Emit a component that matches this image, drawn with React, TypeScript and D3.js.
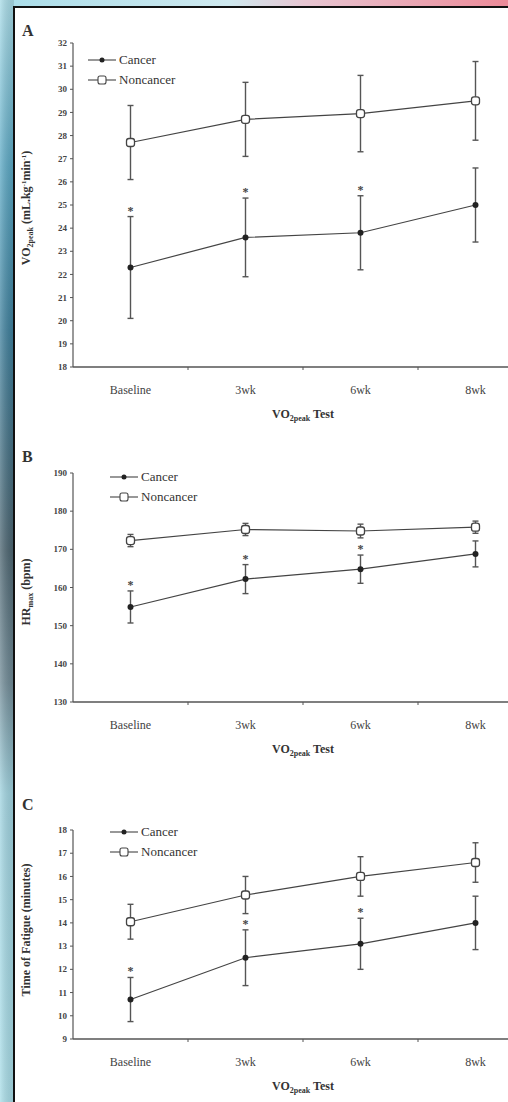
import React from "react";
import * as d3 from "d3";

const categories = ["Baseline", "3wk", "6wk", "8wk"];

// Panel A: VO2peak
const aCancer = [22.3, 23.6, 23.8, 25.0];
const aCancerErr = [2.2, 1.7, 1.6, 1.6];
const aNon = [27.7, 28.7, 28.95, 29.5];
const aNonErr = [1.6, 1.6, 1.65, 1.7];
const aStar = [true, true, true, false];
const aTicks = [18, 19, 20, 21, 22, 23, 24, 25, 26, 27, 28, 29, 30, 31, 32];

// Panel B: HRmax
const bCancer = [154.9, 162.2, 164.8, 168.8];
const bCancerErr = [4.2, 3.8, 3.7, 3.4];
const bNon = [172.3, 175.2, 174.8, 175.8];
const bNonErr = [1.6, 1.6, 1.8, 1.6];
const bStar = [true, true, true, false];
const bTicks = [130, 140, 150, 160, 170, 180, 190];

// Panel C: Time of fatigue
const cCancer = [10.7, 12.5, 13.1, 14.0];
const cCancerErr = [0.95, 1.2, 1.1, 1.15];
const cNon = [14.05, 15.2, 16.0, 16.6];
const cNonErr = [0.75, 0.8, 0.85, 0.85];
const cStar = [true, true, true, false];
const cTicks = [9, 10, 11, 12, 13, 14, 15, 16, 17, 18];

const FONT = "'Liberation Serif', 'DejaVu Serif', serif";
const INK = "#333";

type PanelProps = {
  letter: string;
  letterY: number;
  domain: [number, number];
  top: number;
  bottom: number;
  ticks: number[];
  cancer: number[];
  cancerErr: number[];
  non: number[];
  nonErr: number[];
  star: boolean[];
  yTitle: React.ReactNode;
  yTitleY: number;
  legendX: number;
  legendY: number;
};

function Panel(p: PanelProps) {
  const x = d3.scaleBand<string>().domain(categories).range([73, 533]).padding(0);
  const y = d3.scaleLinear().domain(p.domain).range([p.bottom, p.top]);
  const cx = (c: string) => (x(c) as number) + x.bandwidth() / 2;
  const line = d3
    .line<number>()
    .x((_, i) => cx(categories[i]))
    .y((v) => y(v));
  const axisX = 73;
  return (
    <g>
      <text x={22} y={p.letterY} fontFamily={FONT} fontWeight="bold" fontSize={16} fill={INK}>
        {p.letter}
      </text>
      {/* y axis */}
      <line x1={axisX} x2={axisX} y1={p.top} y2={p.bottom} stroke="#555" strokeWidth={1.2} />
      {p.ticks.map((t) => (
        <g key={t}>
          <line x1={axisX - 3} x2={axisX} y1={y(t)} y2={y(t)} stroke="#555" strokeWidth={1} />
          <text
            x={axisX - 6}
            y={y(t)}
            dy="0.35em"
            textAnchor="end"
            fontFamily={FONT}
            fontSize={9}
            fontWeight="bold"
            fill="#444"
          >
            {t}
          </text>
        </g>
      ))}
      {/* x axis */}
      <line x1={axisX} x2={533} y1={p.bottom} y2={p.bottom} stroke="#555" strokeWidth={1.4} />
      {categories.slice(1).map((c) => (
        <line key={c} x1={x(c) as number} x2={x(c) as number} y1={p.bottom} y2={p.bottom + 3} stroke="#555" strokeWidth={1} />
      ))}
      {categories.map((c) => (
        <text
          key={c}
          x={cx(c)}
          y={p.bottom + 27}
          textAnchor="middle"
          fontFamily={FONT}
          fontSize={12}
          fill="#444"
        >
          {c}
        </text>
      ))}
      <text x={303} y={p.bottom + 51} textAnchor="middle" fontFamily={FONT} fontSize={12} fontWeight="bold" fill={INK}>
        VO<tspan fontSize={8} dy={3}>2peak</tspan>
        <tspan dy={-3}> Test</tspan>
      </text>
      {/* y title */}
      <text
        transform={`translate(30,${p.yTitleY}) rotate(-90)`}
        textAnchor="middle"
        fontFamily={FONT}
        fontSize={12}
        fontWeight="bold"
        fill={INK}
      >
        {p.yTitle}
      </text>
      {/* lines */}
      <path d={line(p.non) || ""} fill="none" stroke="#444" strokeWidth={1.2} />
      <path d={line(p.cancer) || ""} fill="none" stroke="#444" strokeWidth={1.2} />
      {/* error bars */}
      {categories.map((c, i) => {
        const xc = cx(c);
        const bars = [
          [p.non[i], p.nonErr[i]],
          [p.cancer[i], p.cancerErr[i]],
        ];
        return (
          <g key={c}>
            {bars.map(([m, e], j) => (
              <g key={j} stroke="#555" strokeWidth={1.4}>
                <line x1={xc} x2={xc} y1={y(m - e)} y2={y(m + e)} />
                <line x1={xc - 3} x2={xc + 3} y1={y(m - e)} y2={y(m - e)} />
                <line x1={xc - 3} x2={xc + 3} y1={y(m + e)} y2={y(m + e)} />
              </g>
            ))}
            {p.star[i] && (
              <text
                x={xc}
                y={y(p.cancer[i] + p.cancerErr[i]) - 2}
                textAnchor="middle"
                fontFamily={FONT}
                fontSize={12}
                fontWeight="bold"
                fill="#444"
              >
                *
              </text>
            )}
            <rect x={xc - 4} y={y(p.non[i]) - 4} width={8} height={8} rx={2.5} fill="#fff" stroke="#444" strokeWidth={1.3} />
            <circle cx={xc} cy={y(p.cancer[i])} r={3} fill="#222" />
          </g>
        );
      })}
      {/* legend */}
      <g>
        <line x1={p.legendX} x2={p.legendX + 28} y1={p.legendY - 4} y2={p.legendY - 4} stroke="#444" strokeWidth={1.1} />
        <circle cx={p.legendX + 14} cy={p.legendY - 4} r={2.5} fill="#222" />
        <text x={p.legendX + 31} y={p.legendY} fontFamily={FONT} fontSize={13} fill={INK}>
          Cancer
        </text>
        <line x1={p.legendX} x2={p.legendX + 28} y1={p.legendY + 16} y2={p.legendY + 16} stroke="#444" strokeWidth={1.1} />
        <rect x={p.legendX + 10} y={p.legendY + 12} width={8} height={8} rx={2} fill="#fff" stroke="#444" strokeWidth={1.1} />
        <text x={p.legendX + 31} y={p.legendY + 20} fontFamily={FONT} fontSize={13} fill={INK}>
          Noncancer
        </text>
      </g>
    </g>
  );
}

export default function App() {
  return (
    <svg
      width={508}
      height={1102}
      style={{ position: "absolute", left: 0, top: 0, background: "#fff" }}
    >
      <defs>
        <linearGradient id="leftStrip" x1="0" y1="0" x2="0" y2="1">
          <stop offset="0" stopColor="#a8dce8" />
          <stop offset="0.15" stopColor="#5aa8c4" />
          <stop offset="0.3" stopColor="#3d7f9c" />
          <stop offset="0.5" stopColor="#4b6470" />
          <stop offset="0.62" stopColor="#6f8a96" />
          <stop offset="0.72" stopColor="#9fd3e0" />
          <stop offset="1" stopColor="#a8dde8" />
        </linearGradient>
        <linearGradient id="leftStripH" x1="0" y1="0" x2="1" y2="0">
          <stop offset="0" stopColor="#ffffff" stopOpacity="0.25" />
          <stop offset="1" stopColor="#000000" stopOpacity="0.1" />
        </linearGradient>
        <linearGradient id="topStrip" x1="0" y1="0" x2="1" y2="0">
          <stop offset="0" stopColor="#a9dde9" />
          <stop offset="0.45" stopColor="#cfe9ef" />
          <stop offset="0.6" stopColor="#e7c6d2" />
          <stop offset="1" stopColor="#ec8a98" />
        </linearGradient>
      </defs>
      <rect x={0} y={0} width={508} height={7} fill="url(#topStrip)" />
      <rect x={0} y={0} width={14} height={1102} fill="url(#leftStrip)" />
      <rect x={0} y={0} width={14} height={1102} fill="url(#leftStripH)" />
      <line x1={14} x2={508} y1={7} y2={7} stroke="#111" strokeWidth={2} />
      <line x1={14} x2={14} y1={6} y2={1102} stroke="#111" strokeWidth={2} />

      <Panel
        letter="A"
        letterY={36}
        domain={[18, 32]}
        top={43}
        bottom={367}
        ticks={aTicks}
        cancer={aCancer}
        cancerErr={aCancerErr}
        non={aNon}
        nonErr={aNonErr}
        star={aStar}
        yTitleY={208}
        legendX={88}
        legendY={64}
        yTitle={
          <>
            VO<tspan fontSize={8} dy={3}>2peak</tspan>
            <tspan dy={-3}> (mL.kg</tspan>
            <tspan fontSize={7} dy={-4}>-1</tspan>
            <tspan dy={4}>min</tspan>
            <tspan fontSize={7} dy={-4}>-1</tspan>
            <tspan dy={4}>)</tspan>
          </>
        }
      />
      <Panel
        letter="B"
        letterY={462}
        domain={[130, 190]}
        top={473}
        bottom={702}
        ticks={bTicks}
        cancer={bCancer}
        cancerErr={bCancerErr}
        non={bNon}
        nonErr={bNonErr}
        star={bStar}
        yTitleY={592}
        legendX={110}
        legendY={481}
        yTitle={
          <>
            HR<tspan fontSize={8} dy={3}>max</tspan>
            <tspan dy={-3}> (bpm)</tspan>
          </>
        }
      />
      <Panel
        letter="C"
        letterY={810}
        domain={[9, 18]}
        top={830}
        bottom={1039}
        ticks={cTicks}
        cancer={cCancer}
        cancerErr={cCancerErr}
        non={cNon}
        nonErr={cNonErr}
        star={cStar}
        yTitleY={930}
        legendX={110}
        legendY={836}
        yTitle={<>Time of Fatigue (minutes)</>}
      />
    </svg>
  );
}
